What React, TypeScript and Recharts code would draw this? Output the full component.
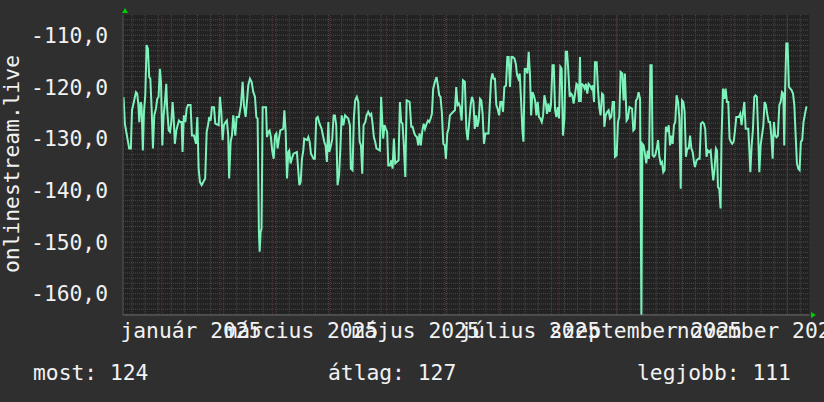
import React from 'react'
import { LineChart, Line, XAxis, YAxis, CartesianGrid, ReferenceLine } from 'recharts'

// days since 2025-01-01, one entry per vertex of the trace
const days = [
  -20.5, -19.8, -18.9, -17.5, -16.6, -16.0, -15.0, -13.9, -13.2, -12.6,
  -12.1, -11.4, -10.9, -10.2, -9.6, -8.9, -8.2, -7.5, -6.8, -6.2,
  -5.5, -4.8, -4.1, -3.2, -2.5, -1.8, -1.1, -0.5, 0.2, 0.9,
  1.6, 2.3, 2.8, 3.6, 4.3, 5.0, 5.7, 6.2, 6.9, 7.7,
  8.4, 9.1, 9.8, 10.5, 11.0, 11.7, 12.5, 13.2, 13.9, 15.3,
  16.0, 17.1, 18.2, 18.9, 19.6, 20.3, 21.2, 23.1, 23.9, 24.6,
  25.3, 26.0, 26.7, 27.8, 28.5, 30.3, 31.0, 31.7, 32.4, 33.1,
  34.0, 34.7, 35.4, 35.9, 36.7, 37.4, 38.1, 39.2, 39.9, 41.1,
  42.2, 43.1, 43.8, 44.7, 45.4, 46.1, 47.0, 47.9, 48.8, 49.7,
  50.4, 51.1, 51.8, 52.2, 52.7, 53.2, 53.8, 55.6, 56.1, 56.8,
  57.5, 58.2, 58.9, 59.7, 60.4, 61.1, 61.8, 62.5, 63.2, 64.8,
  65.4, 66.1, 66.8, 67.5, 68.0, 68.7, 69.4, 70.3, 72.1, 72.8,
  73.4, 74.1, 74.8, 75.5, 76.0, 77.5, 78.2, 78.9, 79.6, 81.0,
  81.7, 82.4, 83.2, 84.2, 85.3, 86.0, 86.7, 87.4, 88.1, 88.9,
  89.4, 90.3, 91.0, 91.7, 92.4, 93.1, 93.8, 94.6, 95.3, 96.0,
  96.9, 97.8, 99.5, 100.4, 100.9, 101.8, 102.5, 103.2, 104.1, 104.9,
  105.6, 106.3, 107.0, 107.7, 108.6, 109.3, 110.2, 111.1, 111.8, 112.5,
  113.2, 113.9, 114.6, 116.4, 117.1, 117.7, 118.2, 118.9, 119.6, 120.3,
  120.9, 121.8, 122.5, 123.2, 123.9, 124.6, 126.4, 127.1, 127.8, 128.5,
  129.2, 130.0, 130.7, 132.3, 133.2, 133.9, 134.6, 135.3, 136.2, 136.9,
  137.6, 138.3, 139.0, 139.8, 140.5, 141.4, 142.1, 142.8, 143.5, 144.2,
  144.9, 145.8, 146.7, 147.4, 148.1, 148.8, 149.5, 150.3, 151.1, 151.7,
  152.4, 153.1, 153.8, 155.6, 156.5, 157.2, 157.9, 158.6, 159.3, 160.1,
  160.8, 161.8, 162.6, 163.3, 164.0, 164.9, 165.6, 166.4, 167.1, 167.8,
  168.5, 169.2, 169.9, 170.6, 171.3, 172.0, 172.8, 174.4, 175.1, 175.8,
  176.5, 177.2, 177.9, 178.6, 179.3, 180.1, 180.8, 181.5, 182.2, 182.9,
  183.8, 184.5, 185.2, 185.9, 186.7, 187.4, 188.3, 189.0, 189.7, 190.4,
  191.1, 191.8, 192.5, 193.1, 193.8, 194.5, 195.2, 195.9, 196.6, 197.2,
  197.9, 198.6, 199.3, 200.0, 200.7, 201.4, 202.1, 202.9, 203.6, 204.3,
  205.0, 205.7, 206.4, 207.1, 207.8, 208.6, 209.3, 210.0, 210.7, 211.4,
  212.1, 212.8, 213.5, 214.2, 215.0, 215.7, 216.4, 217.1, 217.8, 218.5,
  219.2, 219.9, 220.7, 221.4, 222.1, 222.8, 223.3, 223.7, 224.2, 225.1,
  225.8, 226.5, 227.2, 227.9, 228.6, 229.4, 230.1, 230.8, 231.3, 232.2,
  232.9, 233.6, 234.3, 235.1, 235.8, 236.3, 237.0, 237.9, 238.6, 239.3,
  240.0, 240.8, 241.5, 242.0, 242.9, 243.6, 244.3, 245.0, 245.9, 246.6,
  247.3, 248.2, 248.9, 249.7, 251.1, 251.8, 252.5, 253.2, 253.9, 254.6,
  255.4, 256.1, 256.6, 257.3, 258.0, 258.7, 259.5, 260.2, 260.9, 261.6,
  262.1, 262.8, 263.5, 264.3, 265.0, 265.7, 266.4, 267.1, 267.8, 268.5,
  269.2, 270.0, 270.7, 271.4, 272.1, 272.8, 273.5, 274.2, 274.9, 275.7,
  276.4, 277.1, 277.8, 278.5, 279.2, 279.9, 280.6, 281.4, 282.1, 282.8,
  283.5, 284.2, 284.7, 285.6, 286.5, 287.2, 287.9, 288.8, 289.5, 290.2,
  290.9, 291.6, 292.4, 293.1, 293.8, 294.5, 295.2, 295.9, 296.5, 297.0,
  297.7, 298.4, 298.9, 299.7, 300.4, 301.1, 301.8, 302.5, 303.2, 303.9,
  304.6, 305.4, 306.1, 306.8, 308.2, 308.9, 309.6, 310.3, 311.1, 311.8,
  313.2, 313.7, 314.3, 315.0, 315.7, 316.4, 317.1, 317.8, 318.4, 319.1,
  319.8, 320.5, 321.2, 321.9, 322.6, 323.3, 324.1, 324.8, 325.5, 326.2,
  326.9, 327.6, 328.3, 329.0, 329.8, 330.5, 331.2, 331.9, 332.4, 332.9,
  333.5, 334.2, 334.9, 335.6, 336.3, 337.1, 337.8, 338.5, 339.2, 339.9,
  340.6, 341.3, 342.0, 342.7, 343.5, 344.2, 344.7,
]

const values = [
  -122.0, -127.1, -129.0, -131.9, -131.9, -124.5, -122.9, -121.0, -121.3, -123.5,
  -126.8, -122.9, -123.5, -132.3, -124.8, -121.6, -111.9, -112.6, -118.1, -118.4,
  -124.2, -131.9, -125.5, -124.2, -122.3, -121.9, -116.5, -119.0, -131.3, -125.5,
  -122.9, -119.4, -124.2, -128.4, -128.7, -126.8, -122.9, -125.5, -131.0, -128.4,
  -127.4, -126.5, -126.8, -126.8, -132.6, -125.5, -126.8, -124.2, -123.5, -123.5,
  -129.4, -129.4, -131.0, -125.8, -135.8, -138.4, -139.0, -137.7, -128.7, -127.4,
  -125.8, -126.5, -123.9, -123.9, -127.1, -127.4, -121.9, -124.8, -130.3, -127.4,
  -126.8, -126.5, -129.4, -137.7, -130.6, -129.4, -125.5, -129.4, -125.8, -125.8,
  -123.5, -119.0, -123.5, -125.8, -122.9, -119.7, -118.4, -119.0, -121.0, -121.9,
  -125.8, -126.1, -148.1, -151.9, -148.1, -147.4, -123.9, -123.9, -129.7, -128.7,
  -128.4, -129.7, -132.3, -133.9, -129.4, -129.0, -131.9, -130.0, -128.4, -128.1,
  -124.5, -128.7, -137.7, -132.6, -132.3, -134.8, -133.9, -132.9, -132.6, -136.1,
  -139.0, -138.4, -133.9, -132.3, -130.0, -130.3, -129.7, -130.6, -132.9, -133.9,
  -133.9, -126.1, -125.8, -127.1, -128.1, -129.4, -130.6, -131.3, -134.5, -126.8,
  -132.6, -131.3, -130.0, -125.5, -125.5, -127.4, -139.0, -137.1, -131.9, -125.5,
  -127.4, -125.5, -126.1, -127.4, -135.8, -136.1, -126.1, -122.6, -121.9, -122.9,
  -130.6, -131.3, -136.8, -127.4, -126.8, -125.5, -124.8, -125.5, -125.2, -127.1,
  -129.7, -130.6, -131.9, -132.3, -121.9, -126.8, -130.0, -127.4, -128.1, -128.7,
  -135.2, -135.2, -134.2, -135.8, -130.0, -134.8, -134.2, -122.9, -126.8, -127.1,
  -131.3, -137.4, -122.6, -122.9, -127.7, -127.7, -128.7, -129.4, -129.7, -131.3,
  -129.0, -131.3, -128.7, -127.1, -128.1, -127.1, -126.5, -126.8, -126.1, -125.2,
  -120.3, -119.0, -118.1, -119.7, -121.6, -121.9, -124.8, -131.0, -131.3, -133.9,
  -129.0, -128.1, -125.5, -124.8, -124.5, -120.0, -123.5, -123.2, -123.9, -126.5,
  -118.7, -119.0, -128.1, -130.3, -127.4, -123.5, -121.9, -122.9, -128.1, -125.5,
  -127.7, -126.5, -122.3, -122.6, -125.2, -131.0, -129.0, -129.0, -123.5, -118.7,
  -117.4, -118.4, -118.4, -123.5, -124.2, -125.5, -122.9, -122.9, -124.8, -120.0,
  -119.7, -114.2, -114.2, -120.0, -114.2, -114.2, -114.5, -115.5, -117.7, -118.4,
  -117.4, -122.3, -128.1, -130.6, -116.5, -116.5, -117.4, -113.2, -117.7, -125.5,
  -121.0, -121.6, -122.6, -125.5, -122.9, -125.8, -126.1, -126.8, -125.5, -121.6,
  -122.9, -125.2, -123.2, -124.8, -123.5, -115.8, -115.8, -124.5, -125.8, -123.9,
  -126.1, -116.1, -116.5, -129.4, -126.1, -113.2, -113.2, -117.1, -121.9, -121.3,
  -121.6, -123.2, -121.3, -119.4, -119.7, -122.9, -114.2, -122.9, -119.4, -119.7,
  -120.3, -119.4, -121.3, -119.4, -119.7, -120.3, -119.7, -122.9, -115.2, -115.2,
  -120.3, -123.9, -125.5, -121.3, -121.6, -127.7, -125.5, -124.8, -124.5, -126.1,
  -125.8, -122.9, -122.9, -133.5, -133.2, -126.8, -125.8, -117.1, -117.4, -122.6,
  -117.4, -126.5, -126.1, -123.9, -124.2, -128.4, -128.1, -122.6, -122.3, -121.0,
  -122.3, -164.3, -131.0, -131.3, -132.9, -134.8, -132.3, -133.9, -115.8, -115.8,
  -133.2, -133.5, -133.2, -131.9, -130.3, -133.5, -134.8, -134.5, -136.5, -136.1,
  -127.7, -128.7, -127.4, -131.3, -129.4, -131.0, -127.4, -126.8, -121.6, -122.9,
  -126.1, -139.7, -122.6, -122.9, -124.8, -133.5, -131.9, -131.9, -129.4, -131.9,
  -132.6, -134.5, -135.5, -134.2, -133.9, -133.9, -127.1, -126.8, -127.1, -128.1,
  -133.5, -132.3, -132.6, -132.3, -135.5, -138.1, -135.8, -131.9, -132.3, -139.4,
  -139.7, -143.5, -130.0, -120.3, -122.3, -120.3, -122.9, -122.9, -130.0, -130.6,
  -131.0, -130.6, -128.4, -125.8, -125.8, -125.2, -127.4, -125.2, -122.9, -128.1,
  -128.1, -131.6, -136.5, -131.3, -128.1, -121.9, -121.6, -121.9, -128.1, -136.5,
  -131.3, -129.4, -127.7, -122.9, -123.5, -125.2, -126.8, -126.8, -129.4, -133.9,
  -126.8, -129.4, -129.7, -129.4, -123.5, -122.9, -121.0, -121.3, -131.3, -120.3,
  -111.6, -111.6, -120.0, -120.3, -120.6, -121.3, -123.5, -129.4, -134.8, -135.8,
  -136.1, -130.6, -130.3, -126.8, -125.2, -123.9, -123.9,
]

// x labels sit mid-month (month start + 15.5 days)
const labelDays = [15.5, 74.5, 135.5, 196.5, 258.5, 319.5]
const labelNames = ['január 2025', 'március 2025', 'május 2025', 'július 2025', 'szeptember 2025', 'november 2025']
const monthStarts = [0, 31, 59, 90, 120, 151, 181, 212, 243, 273, 304, 334]
const yTicks = [-160, -150, -140, -130, -120, -110]

const legendItems = [
  { text: 'most: 124', x: 33 },
  { text: 'átlag: 127', x: 328 },
  { text: 'legjobb: 111', x: 637 },
]

const FONT = '"DejaVu Sans Mono", monospace'
const FS = 21.3
const TEXT = '#f2f2f2'
const MAJOR = '#5c3434'

const rows = days.map((d, i) => ({ day: d, value: values[i] }))

// weekly (monday) and 1-unit minor grid
const weekLines: number[] = []
for (let d = -16; d <= 345; d += 7) weekLines.push(d)
const minorY: number[] = []
for (let v = -164; v <= -107; v++) minorY.push(v)

export default function App() {
  return (
    <div style={{ position: 'absolute', left: 0, top: 0, width: 824, height: 402, background: '#2f2f2f' }}>
      <LineChart width={824} height={402} data={rows} margin={{ top: 15, right: 14.5, bottom: 57, left: 13 }}>
        <CartesianGrid fill="#222222" stroke="#4a4a4a" strokeDasharray="1 1" horizontalValues={minorY} verticalValues={weekLines} />
        <XAxis
          type="number"
          dataKey="day"
          domain={[-20.8, 345.9]}
          allowDataOverflow
          ticks={labelDays}
          interval={0}
          tickFormatter={(v) => labelNames[labelDays.indexOf(v)] ?? ''}
          height={30}
          tickLine={false}
          axisLine={{ stroke: '#6a6a6a' }}
          tick={{ fill: TEXT, fontSize: FS, fontFamily: FONT }}
        />
        <YAxis
          type="number"
          domain={[-164.13, -106.07]}
          allowDataOverflow
          ticks={yTicks}
          interval={0}
          width={110}
          tickSize={0}
          tickMargin={15}
          tickLine={false}
          axisLine={{ stroke: '#555555' }}
          tickFormatter={(v) => v.toFixed(1).replace('.', ',')}
          tick={{ fill: TEXT, fontSize: FS, fontFamily: FONT }}
        />
        {yTicks.map((v) => (
          <ReferenceLine key={'h' + v} y={v} stroke={MAJOR} strokeDasharray="1 1" />
        ))}
        {monthStarts.map((d) => (
          <ReferenceLine key={'v' + d} x={d} stroke={MAJOR} strokeDasharray="1 1" />
        ))}
        <Line type="linear" dataKey="value" stroke="#7ef2bb" strokeWidth={2} dot={false} isAnimationActive={false} />
      </LineChart>
      <svg width={824} height={402} style={{ position: 'absolute', left: 0, top: 0, pointerEvents: 'none' }}>
        <text transform="translate(18.5,164) rotate(-90)" textAnchor="middle" fill={TEXT} fontSize={FS} fontFamily={FONT}>
          onlinestream.live
        </text>
        {legendItems.map((l) => (
          <text key={l.text} x={l.x} y={380} fill={TEXT} fontSize={FS} fontFamily={FONT}>
            {l.text}
          </text>
        ))}
        <polygon points="122,13 128,13 125,8" fill="#00cc00" />
        <polygon points="811,312 811,318 816,315" fill="#00cc00" />
      </svg>
    </div>
  )
}
